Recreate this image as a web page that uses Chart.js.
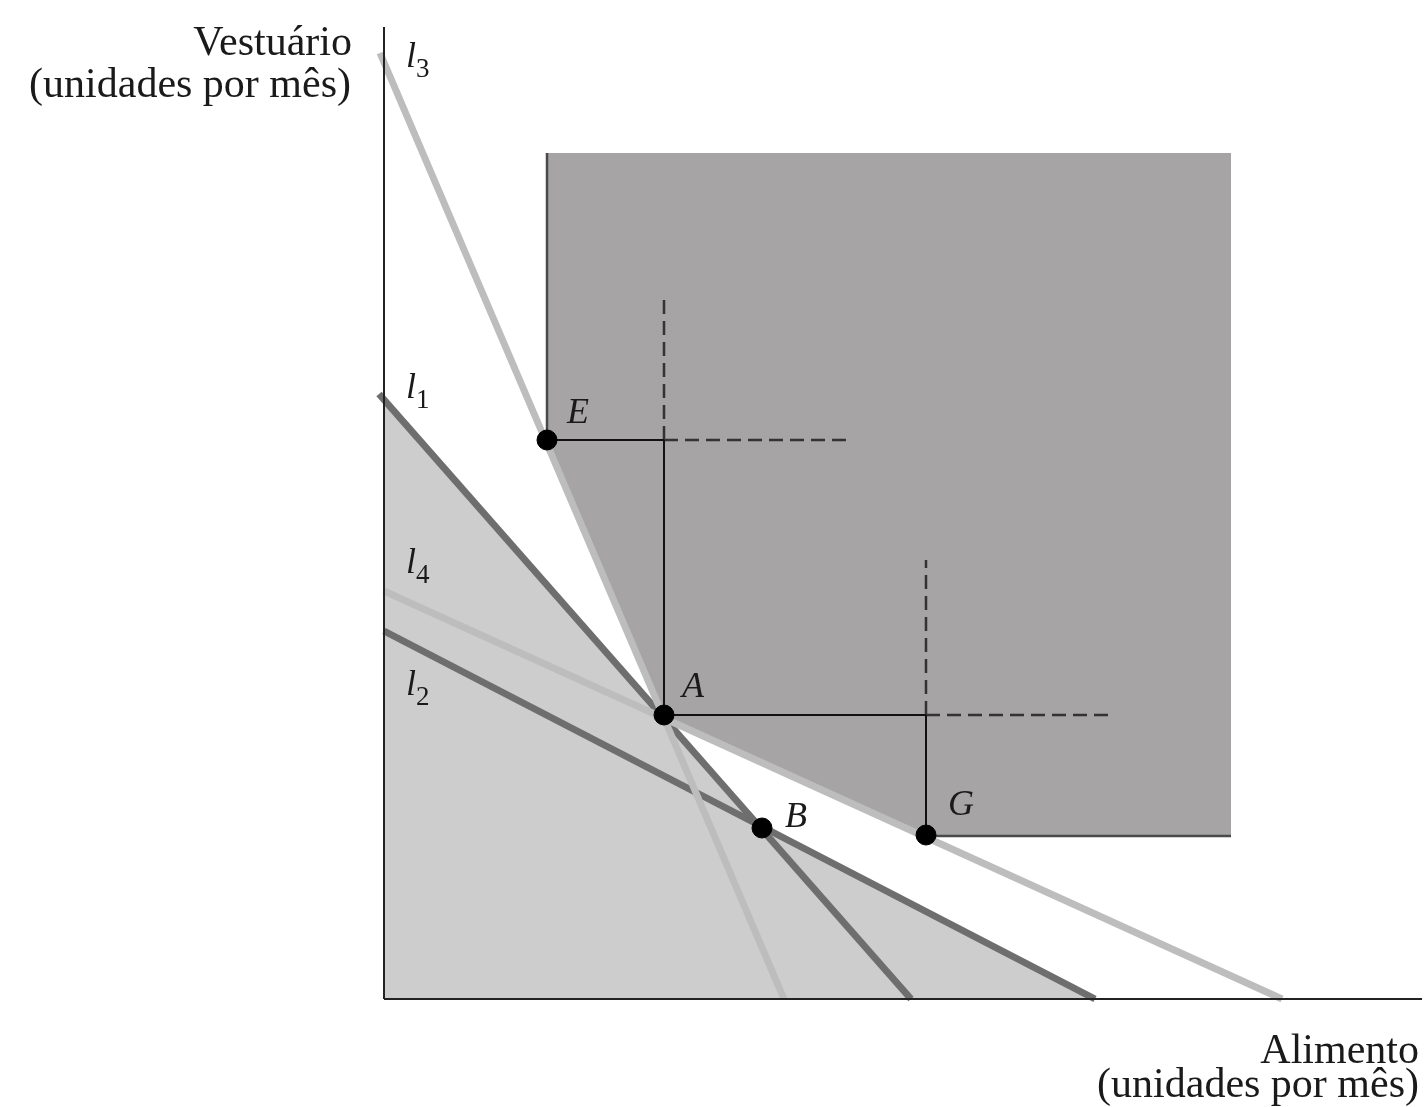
<!DOCTYPE html>
<html>
<head>
<meta charset="utf-8">
<script src="https://cdn.jsdelivr.net/npm/chart.js@4/dist/chart.umd.min.js"></script>
<style>
  body { margin: 0; background: #fff; }
  canvas { display: block; }
</style>
</head>
<body>
<canvas id="myChart" width="1425" height="1107"></canvas>
<script>
// ----------------------------------------------------------
// data (units, origin at the axes corner)
const pointE = [16.3, 55.9];
const pointA = [28.0, 28.4];
const pointB = [37.8, 17.1];
const pointG = [54.2, 16.4];

// budget lines
const lineL1 = [[-0.5, 60.5], [52.7, 0]];
const lineL2 = [[0, 36.8], [71.1, 0]];
const lineL3 = [[-0.4, 94.6], [40.0, 0]];
const lineL4 = [[0, 40.8], [89.8, 0]];

// shaded regions
const lightRegion = [[0, 0], [0, 59.9], pointB, [71.1, 0]];
const darkRegion = [[16.3, 84.6], [84.7, 84.6], [84.7, 16.3], [54.2, 16.3], pointA, pointE];
const darkRegionEdges = [
  [[16.3, 84.6], pointE],
  [[54.2, 16.3], [84.7, 16.3]],
];

// guide lines
const solidGuides = [
  [pointE, [28.0, 55.9]],
  [[28.0, 55.9], pointA],
  [pointA, [54.2, 28.4]],
  [[54.2, 28.4], pointG],
];
const dashedGuides = [
  [[28.0, 55.9], [28.0, 70.4]],
  [[28.0, 55.9], [46.3, 55.9]],
  [[54.2, 28.4], [72.6, 28.4]],
  [[54.2, 28.4], [54.2, 43.9]],
];

// axes
const xAxisLine = [[0, 0], [103.8, 0]];
const yAxisLine = [[0, 0], [0, 97.2]];

// ----------------------------------------------------------
const toXY = (arr) => arr.map((p) => ({ x: p[0], y: p[1] }));

function segmentDataset(seg, color, width, order, dash) {
  return {
    type: "line",
    data: toXY(seg),
    borderColor: color,
    borderWidth: width,
    borderDash: dash || [],
    pointRadius: 0,
    fill: false,
    clip: false,
    order: order,
  };
}

const datasets = [];
// points on top
datasets.push({
  type: "scatter",
  data: toXY([pointE, pointA, pointB, pointG]),
  backgroundColor: "#000",
  borderColor: "#000",
  pointRadius: 10,
  clip: false,
  order: 0,
});
// light lines
[lineL3, lineL4].forEach((l) => datasets.push(segmentDataset(l, "#bdbdbd", 7, 2)));
// dark lines
[lineL1, lineL2].forEach((l) => datasets.push(segmentDataset(l, "#6e6e6e", 7, 3)));
// guides
solidGuides.forEach((g) => datasets.push(segmentDataset(g, "#111", 2, 4)));
dashedGuides.forEach((g) => datasets.push(segmentDataset(g, "#333", 2.5, 4, [14, 7])));
darkRegionEdges.forEach((g) => datasets.push(segmentDataset(g, "#4a4a4a", 2.5, 5)));
// axes
[xAxisLine, yAxisLine].forEach((a) => datasets.push(segmentDataset(a, "#222", 2, 1)));

// ----------------------------------------------------------
// polygons drawn behind the datasets
const regionsPlugin = {
  id: "regions",
  beforeDatasetsDraw(chart) {
    const { ctx, scales } = chart;
    const fillPoly = (poly, color) => {
      ctx.beginPath();
      poly.forEach((p, i) => {
        const px = scales.x.getPixelForValue(p[0]);
        const py = scales.y.getPixelForValue(p[1]);
        if (i === 0) ctx.moveTo(px, py);
        else ctx.lineTo(px, py);
      });
      ctx.closePath();
      ctx.fillStyle = color;
      ctx.fill();
    };
    ctx.save();
    fillPoly(lightRegion, "#cdcdcd");
    fillPoly(darkRegion, "#a6a4a5");
    ctx.restore();
  },
};

// labels
const serif = "'Liberation Serif', 'DejaVu Serif', serif";
const textLabels = [
  { text: "Vestuário", x: 352, y: 55, align: "right" },
  { text: "(unidades por mês)", x: 351, y: 97, align: "right" },
  { text: "Alimento", x: 1419, y: 1063, align: "right" },
  { text: "(unidades por mês)", x: 1419, y: 1097, align: "right" },
];
const lineLabels = [
  { name: "l", sub: "3", x: 406, y: 67 },
  { name: "l", sub: "1", x: 406, y: 398 },
  { name: "l", sub: "4", x: 406, y: 573 },
  { name: "l", sub: "2", x: 406, y: 695 },
];
const pointLabels = [
  { text: "E", x: 567, y: 423 },
  { text: "A", x: 682, y: 697 },
  { text: "B", x: 785, y: 827 },
  { text: "G", x: 948, y: 815 },
];

const labelsPlugin = {
  id: "labels",
  afterDraw(chart) {
    const ctx = chart.ctx;
    ctx.save();
    ctx.fillStyle = "#1a1a1a";
    ctx.textBaseline = "alphabetic";
    ctx.font = "42px " + serif;
    textLabels.forEach((t) => {
      ctx.textAlign = t.align;
      ctx.fillText(t.text, t.x, t.y);
    });
    ctx.textAlign = "left";
    lineLabels.forEach((t) => {
      ctx.font = "italic 36px " + serif;
      ctx.fillText(t.name, t.x, t.y);
      const w = ctx.measureText(t.name).width;
      ctx.font = "27px " + serif;
      ctx.fillText(t.sub, t.x + w, t.y + 10);
    });
    ctx.font = "italic 36px " + serif;
    pointLabels.forEach((t) => ctx.fillText(t.text, t.x, t.y));
    ctx.restore();
  },
};

// ----------------------------------------------------------
const ctx = document.querySelector("#myChart").getContext("2d");
const theChart = new Chart(ctx, {
  type: "scatter",
  data: { datasets: datasets },
  options: {
    responsive: false,
    animation: false,
    layout: { autoPadding: false, padding: { left: 364, right: 0, top: 0, bottom: 88 } },
    plugins: { legend: { display: false }, tooltip: { enabled: false } },
    scales: {
      x: { type: "linear", min: -2, max: 104.1, display: false },
      y: { type: "linear", min: -2, max: 99.9, display: false },
    },
  },
  plugins: [regionsPlugin, labelsPlugin],
});
</script>
</body>
</html>
